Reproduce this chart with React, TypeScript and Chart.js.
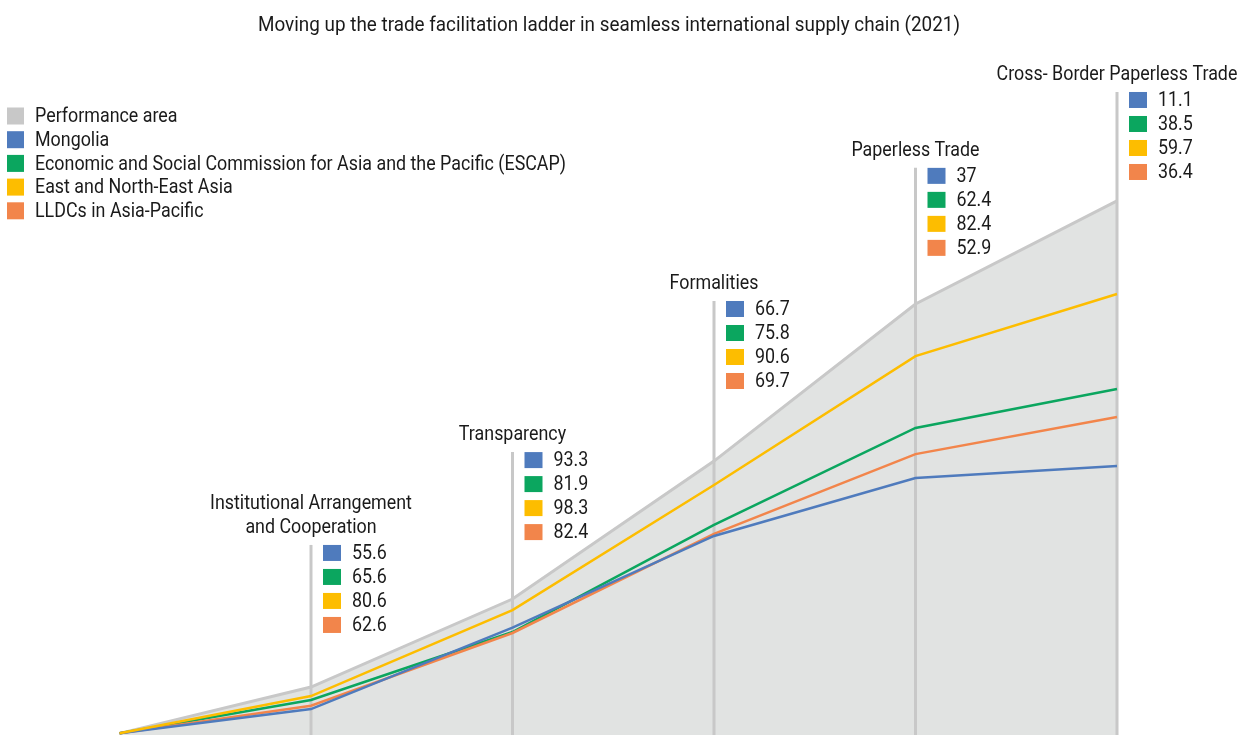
import React, { useEffect, useRef } from "react";
import { Chart, registerables } from "chart.js";

Chart.register(...registerables);

const TITLE = "Moving up the trade facilitation ladder in seamless international supply chain (2021)";

const CATEGORIES: string[][] = [
  ["Institutional Arrangement", "and Cooperation"],
  ["Transparency"],
  ["Formalities"],
  ["Paperless Trade"],
  ["Cross- Border Paperless Trade"],
];

const SERIES_NAMES = [
  "Performance area",
  "Mongolia",
  "Economic and Social Commission for Asia and the Pacific (ESCAP)",
  "East and North-East Asia",
  "LLDCs in Asia-Pacific",
];

// Scores shown in the labels (%)
const MONGOLIA = [55.6, 93.3, 66.7, 37, 11.1];
const ESCAP = [65.6, 81.9, 75.8, 62.4, 38.5];
const ENEA = [80.6, 98.3, 90.6, 82.4, 59.7];
const LLDC = [62.6, 82.4, 69.7, 52.9, 36.4];
const SCORES = [MONGOLIA, ESCAP, ENEA, LLDC];

// Cumulative ladder values as plotted (origin + five areas)
const X_STEPS = [0.05, 1, 2, 3, 4, 5];
const PERF_LINE = [0, 2.78, 8.07, 16.36, 25.8, 32.0];
const MONGOLIA_LINE = [0, 1.46, 6.35, 11.86, 15.34, 16.06];
const ESCAP_LINE = [0, 2.0, 6.09, 12.53, 18.35, 20.69];
const ENEA_LINE = [0, 2.24, 7.41, 14.92, 22.67, 26.4];
const LLDC_LINE = [0, 1.66, 6.03, 11.99, 16.78, 19.01];

// Layout of the annotation blocks (data-units for first row)
const LABEL_ROW_Y = [10.84, 16.42, 25.5, 33.5, 38.06];

const COLORS = ["#c8c8c8", "#4f7bbd", "#0ba65f", "#fdbd00", "#f2854b"];
const FILL = "#e1e3e2";
const TEXT = "#1a1a1a";
const FONT = 'Roboto, "Liberation Sans", sans-serif';

const pts = (ys: number[]) => ys.map((y, i) => ({ x: X_STEPS[i], y }));

export default function App() {
  const ref = useRef<HTMLCanvasElement | null>(null);

  useEffect(() => {
    if (!ref.current) return;

    const overlay = {
      id: "overlay",
      afterDatasetDraw(chart: any, args: any) {
        if (args.index !== 0) return;
        const { ctx } = chart;
        const xs = chart.scales.x;
        const ys = chart.scales.y;
        ctx.save();
        ctx.strokeStyle = COLORS[0];
        ctx.lineWidth = 3;
        CATEGORIES.forEach((_, i) => {
          const cx = xs.getPixelForValue(i + 1);
          const top = ys.getPixelForValue(LABEL_ROW_Y[i]) - 8;
          ctx.beginPath();
          ctx.moveTo(cx, top);
          ctx.lineTo(cx, chart.height);
          ctx.stroke();
        });
        ctx.restore();
      },
      afterDraw(chart: any) {
        const { ctx } = chart;
        const xs = chart.scales.x;
        const ys = chart.scales.y;
        ctx.save();
        ctx.textBaseline = "middle";
        ctx.font = `21px ${FONT}`;
        const squeeze = 531 / ctx.measureText(SERIES_NAMES[2]).width;
        const txt = (s: string, x: number, y: number, align: "left" | "center", sq = squeeze) => {
          ctx.save();
          ctx.translate(x, y);
          ctx.scale(sq, 1);
          ctx.textAlign = align;
          ctx.fillStyle = TEXT;
          ctx.fillText(s, 0, 0);
          ctx.restore();
        };
        // title
        const tsq = 702 / ctx.measureText(TITLE).width;
        txt(TITLE, 609, 26, "center", tsq);
        // legend
        SERIES_NAMES.forEach((name, i) => {
          const cy = 116 + i * 23.7;
          ctx.fillStyle = COLORS[i];
          ctx.fillRect(7, cy - 8.5, 17, 17);
          txt(name, 35, cy + 1, "left");
        });
        // annotation blocks
        CATEGORIES.forEach((lines, i) => {
          const cx = xs.getPixelForValue(i + 1);
          const row0 = ys.getPixelForValue(LABEL_ROW_Y[i]);
          lines.forEach((t, j) => {
            txt(t, cx, row0 - 26 - (lines.length - 1 - j) * 24 + 1, "center");
          });
          SCORES.forEach((arr, k) => {
            const cy = row0 + k * 24;
            ctx.fillStyle = COLORS[k + 1];
            ctx.fillRect(cx + 12, cy - 8, 18, 16);
            txt(String(arr[i]), cx + 41, cy + 1, "left");
          });
        });
        ctx.restore();
      },
    };

    const lineDs = (label: string, ys: number[], color: string, order: number) => ({
      label,
      data: pts(ys),
      borderColor: color,
      backgroundColor: color,
      borderWidth: 2.5,
      pointRadius: 0,
      fill: false,
      tension: 0,
      order,
      clip: false as any,
    });

    const chart = new Chart(ref.current, {
      type: "line",
      data: {
        datasets: [
          {
            label: SERIES_NAMES[0],
            data: pts(PERF_LINE),
            borderColor: COLORS[0],
            backgroundColor: FILL,
            borderWidth: 3,
            pointRadius: 0,
            fill: "start",
            tension: 0,
            order: 10,
            clip: false as any,
          },
          lineDs(SERIES_NAMES[2], ESCAP_LINE, COLORS[2], 4),
          lineDs(SERIES_NAMES[4], LLDC_LINE, COLORS[4], 3),
          lineDs(SERIES_NAMES[1], MONGOLIA_LINE, COLORS[1], 2),
          lineDs(SERIES_NAMES[3], ENEA_LINE, COLORS[3], 1),
        ],
      },
      options: {
        animation: false,
        responsive: false,
        layout: { padding: { left: 109.5, right: 126, top: 67.7, bottom: 0 } },
        scales: {
          x: { type: "linear", min: 0, max: 5, display: false },
          y: { type: "linear", min: -0.1, max: 40, display: false },
        },
        plugins: {
          legend: { display: false },
          title: { display: false },
          tooltip: { enabled: false },
        },
      },
      plugins: [overlay],
    });
    return () => chart.destroy();
  }, []);

  return (
    <div style={{ position: "fixed", left: 0, top: 0, width: 1243, height: 735, background: "#fff" }}>
      <canvas ref={ref} width={1243} height={735} style={{ display: "block" }} />
    </div>
  );
}
